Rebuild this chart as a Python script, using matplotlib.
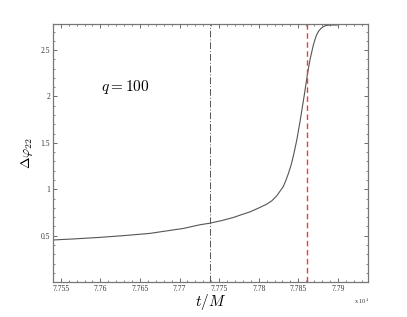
import matplotlib.pyplot as plt
import numpy as np
from matplotlib.ticker import MultipleLocator, FixedFormatter, FixedLocator

# phase difference vs time (t in units of 1e4 M)
t = [7.75396, 7.75674, 7.75991, 7.76307, 7.76624, 7.76877, 7.77046, 7.77257,
     7.77384, 7.77536, 7.77678, 7.77777, 7.7789, 7.77991, 7.78101, 7.78164,
     7.78228, 7.78311, 7.78345, 7.78375, 7.78409, 7.78438, 7.78481, 7.78522,
     7.78573, 7.78615, 7.78649, 7.78691, 7.78725, 7.78754, 7.78788, 7.78818,
     7.78852, 7.78902, 7.7899]
dphi = [0.454, 0.466, 0.482, 0.502, 0.525, 0.557, 0.578, 0.618,
        0.635, 0.664, 0.696, 0.725, 0.757, 0.795, 0.84, 0.875,
        0.93, 1.03, 1.10, 1.17, 1.26, 1.36, 1.53, 1.73,
        2.0, 2.235, 2.40, 2.557, 2.65, 2.70, 2.735, 2.753,
        2.765, 2.77, 2.77]

t_isco = 7.77384
t_peak = 7.78615

xticks = [7.755, 7.76, 7.765, 7.77, 7.775, 7.78, 7.785, 7.79]
xlabels = ['7.755', '7.76', '7.765', '7.77', '7.775', '7.78', '7.785', '7.79']
yticks = [0.5, 1, 1.5, 2, 2.5]
ylabels = ['0.5', '1', '1.5', '2', '2.5']

plt.rcParams['mathtext.fontset'] = 'cm'
plt.rcParams['font.family'] = 'Liberation Serif'

fig = plt.figure(figsize=(4.07, 3.17), dpi=100)
ax = fig.add_axes([0.130, 0.110, 0.774, 0.814])

ax.plot(t, dphi, color='#555555', lw=0.8)
ax.axvline(t_isco, color='#555555', lw=0.7, ls=(0, (7, 2, 1, 2)))
ax.axvline(t_peak, color='#f03c3c', lw=1.0, ls=(0, (4, 2.5)))

ax.set_xlim(7.754, 7.7938)
ax.set_ylim(0, 2.78)

ax.xaxis.set_major_locator(FixedLocator(xticks))
ax.xaxis.set_major_formatter(FixedFormatter(xlabels))
ax.xaxis.set_minor_locator(MultipleLocator(0.001))
ax.yaxis.set_major_locator(FixedLocator(yticks))
ax.yaxis.set_major_formatter(FixedFormatter(ylabels))
ax.yaxis.set_minor_locator(MultipleLocator(0.1))

ax.tick_params(which='both', direction='in', top=True, right=True,
               labelsize=5.5, colors='#555555', labelcolor='#333333', pad=2)
ax.tick_params(which='major', length=3, width=0.6)
ax.tick_params(which='minor', length=1.5, width=0.5)
for s in ax.spines.values():
    s.set_color('#777777')
    s.set_linewidth(0.9)

ax.set_xlabel('$t/M$', fontsize=11, labelpad=-1)
ax.set_ylabel(r'$\Delta\varphi_{22}$', fontsize=10, labelpad=4)
ax.text(0.23, 0.755, '$q=100$', transform=ax.transAxes, fontsize=11,
        ha='center', va='center')
ax.text(0.98, -0.075, r'x 10$^4$', transform=ax.transAxes, fontsize=4.5,
        ha='center', va='center', color='#333333')

fig.savefig('out.png', dpi=100)
